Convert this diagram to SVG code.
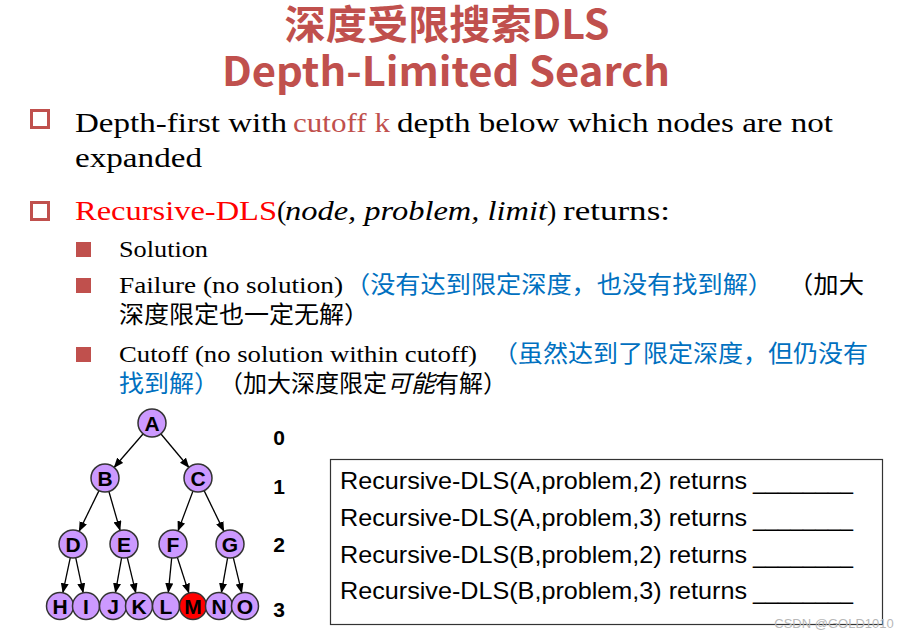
<svg xmlns="http://www.w3.org/2000/svg" width="908" height="639" viewBox="0 0 908 639">
<style>
.title{font-family:"Noto Sans CJK SC","Noto Sans",sans-serif;font-weight:bold;fill:#C0504D;font-size:40px}
.main{font-family:"Liberation Serif","Noto Sans CJK SC",serif;font-size:28px;fill:#000}
.sub{font-family:"Liberation Serif","Noto Sans CJK SC",serif;font-size:23px;fill:#000}
.cjk{font-family:"Noto Sans CJK SC",sans-serif;font-size:24px;fill:#000}
.blue{fill:#0070C0}
.node circle{fill:#CC99FF;stroke:#333;stroke-width:1.5}
.node text{font-family:"Liberation Sans",Arial,sans-serif;font-weight:bold;font-size:21px;text-anchor:middle;fill:#000}
.lvl{font-family:"Liberation Sans",Arial,sans-serif;font-weight:bold;font-size:21px;text-anchor:middle;fill:#000}
.box{font-family:"Liberation Sans",Arial,sans-serif;font-size:24px;fill:#000}
.edges line{stroke:#000;stroke-width:1.3;marker-end:url(#ah)}
</style>
<defs>
<marker id="ah" markerWidth="10" markerHeight="8" refX="9.5" refY="4" orient="auto" markerUnits="userSpaceOnUse"><path d="M0,0 L10,4 L0,8 z" fill="#000"/></marker>
</defs>
<rect width="908" height="639" fill="#fff"/>

<g id="title">
<text class="title" x="447" y="39" text-anchor="middle" textLength="325" lengthAdjust="spacingAndGlyphs">深度受限搜索DLS</text>
<text class="title" x="446" y="86" text-anchor="middle" font-size="42" textLength="448" lengthAdjust="spacingAndGlyphs">Depth-Limited Search</text>
</g>

<g id="bullets">
<rect x="31.5" y="110.5" width="17" height="17" fill="#fff" stroke="#C0504D" stroke-width="3"/>
<text class="main" y="132"><tspan x="75" textLength="212" lengthAdjust="spacingAndGlyphs">Depth-first with</tspan><tspan x="293" fill="#C0504D" textLength="97" lengthAdjust="spacingAndGlyphs">cutoff k</tspan><tspan x="397" textLength="436" lengthAdjust="spacingAndGlyphs">depth below which nodes are not</tspan></text>
<text class="main" x="75" y="167" textLength="127" lengthAdjust="spacingAndGlyphs">expanded</text>

<rect x="31.5" y="202.5" width="17" height="17" fill="#fff" stroke="#C0504D" stroke-width="3"/>
<text class="main" y="220"><tspan x="75" fill="#FF0000" textLength="202" lengthAdjust="spacingAndGlyphs">Recursive-DLS</tspan><tspan x="277">(</tspan><tspan x="285" font-style="italic" textLength="262" lengthAdjust="spacingAndGlyphs">node, problem, limit</tspan><tspan x="547">)</tspan><tspan x="563" textLength="107" lengthAdjust="spacingAndGlyphs">returns:</tspan></text>

<rect x="76" y="242" width="15" height="15" fill="#C0504D"/>
<text class="sub" x="119" y="257" textLength="89" lengthAdjust="spacingAndGlyphs">Solution</text>

<rect x="76" y="278" width="15" height="15" fill="#C0504D"/>
<text class="sub" x="119" y="293" textLength="224" lengthAdjust="spacingAndGlyphs">Failure (no solution)</text>
<text class="cjk blue" x="345" y="293" textLength="428" lengthAdjust="spacingAndGlyphs">（没有达到限定深度，也没有找到解）</text>
<text class="cjk" x="788" y="293" textLength="76" lengthAdjust="spacingAndGlyphs">（加大</text>
<text class="cjk" x="119" y="323" textLength="250" lengthAdjust="spacingAndGlyphs">深度限定也一定无解）</text>

<rect x="76" y="347" width="15" height="15" fill="#C0504D"/>
<text class="sub" x="119" y="362" textLength="358" lengthAdjust="spacingAndGlyphs">Cutoff (no solution within cutoff)</text>
<text class="cjk blue" x="493" y="362" textLength="375" lengthAdjust="spacingAndGlyphs">（虽然达到了限定深度，但仍没有</text>
<text class="cjk blue" x="119" y="392" textLength="100" lengthAdjust="spacingAndGlyphs">找到解）</text>
<text class="cjk" x="219" y="392">（加大深度限定<tspan font-style="italic">可能</tspan>有解）</text>
</g>

<g id="connectors" class="edges">
<line x1="143" y1="434" x2="114" y2="467.5"/>
<line x1="161" y1="434" x2="189" y2="467.5"/>
<line x1="99" y1="490.6" x2="79.1" y2="531.4"/>
<line x1="108.9" y1="491.5" x2="120.1" y2="530.5"/>
<line x1="193" y1="491.1" x2="178" y2="530.9"/>
<line x1="204.1" y1="490.6" x2="223.9" y2="531.4"/>
<line x1="70.3" y1="557.7" x2="62.8" y2="592.8"/>
<line x1="75.7" y1="557.7" x2="83.2" y2="592.8"/>
<line x1="121.6" y1="557.8" x2="115.4" y2="592.7"/>
<line x1="127.3" y1="557.6" x2="135.8" y2="592.9"/>
<line x1="171.7" y1="557.9" x2="168.3" y2="592.6"/>
<line x1="177.3" y1="557.3" x2="188.9" y2="593.1"/>
<line x1="227.6" y1="557.8" x2="221.4" y2="592.7"/>
<line x1="233.3" y1="557.6" x2="241.8" y2="592.9"/>
</g>

<g id="node-A" class="node"><circle cx="152" cy="423" r="14"/><text x="152" y="430.5">A</text></g>
<g id="node-B" class="node"><circle cx="105" cy="478" r="14"/><text x="105" y="485.5">B</text></g>
<g id="node-C" class="node"><circle cx="198" cy="478" r="14"/><text x="198" y="485.5">C</text></g>
<g id="node-D" class="node"><circle cx="73" cy="544" r="14"/><text x="73" y="551.5">D</text></g>
<g id="node-E" class="node"><circle cx="124" cy="544" r="14"/><text x="124" y="551.5">E</text></g>
<g id="node-F" class="node"><circle cx="173" cy="544" r="14"/><text x="173" y="551.5">F</text></g>
<g id="node-G" class="node"><circle cx="230" cy="544" r="14"/><text x="230" y="551.5">G</text></g>
<g id="node-H" class="node"><circle cx="60" cy="606" r="13.5"/><text x="60" y="613.5">H</text></g>
<g id="node-I" class="node"><circle cx="86" cy="606" r="13.5"/><text x="86" y="613.5">I</text></g>
<g id="node-J" class="node"><circle cx="113" cy="606" r="13.5"/><text x="113" y="613.5">J</text></g>
<g id="node-K" class="node"><circle cx="139" cy="606" r="13.5"/><text x="139" y="613.5">K</text></g>
<g id="node-L" class="node"><circle cx="166" cy="606" r="13.5"/><text x="166" y="613.5">L</text></g>
<g id="node-M" class="node"><circle cx="193" cy="606" r="13.5" style="fill:#FF0000"/><text x="193" y="613.5">M</text></g>
<g id="node-N" class="node"><circle cx="219" cy="606" r="13.5"/><text x="219" y="613.5">N</text></g>
<g id="node-O" class="node"><circle cx="245" cy="606" r="13.5"/><text x="245" y="613.5">O</text></g>

<g id="levels">
<text class="lvl" x="279" y="445">0</text>
<text class="lvl" x="279" y="494">1</text>
<text class="lvl" x="279" y="552">2</text>
<text class="lvl" x="279" y="617">3</text>
</g>

<g id="questions">
<rect x="330.5" y="459.5" width="552" height="165" fill="#fff" stroke="#333" stroke-width="1.2"/>
<text class="box" y="489"><tspan x="340" textLength="407" lengthAdjust="spacingAndGlyphs">Recursive-DLS(A,problem,2) returns</tspan><tspan x="753" textLength="100" lengthAdjust="spacingAndGlyphs">________</tspan></text>
<text class="box" y="526"><tspan x="340" textLength="407" lengthAdjust="spacingAndGlyphs">Recursive-DLS(A,problem,3) returns</tspan><tspan x="753" textLength="100" lengthAdjust="spacingAndGlyphs">________</tspan></text>
<text class="box" y="563"><tspan x="340" textLength="407" lengthAdjust="spacingAndGlyphs">Recursive-DLS(B,problem,2) returns</tspan><tspan x="753" textLength="100" lengthAdjust="spacingAndGlyphs">________</tspan></text>
<text class="box" y="599"><tspan x="340" textLength="407" lengthAdjust="spacingAndGlyphs">Recursive-DLS(B,problem,3) returns</tspan><tspan x="753" textLength="100" lengthAdjust="spacingAndGlyphs">________</tspan></text>
</g>

<text x="834" y="628" text-anchor="middle" font-family="Liberation Sans,Arial,sans-serif" font-size="13" fill="#b8b8b8">CSDN @GOLD1010</text>
</svg>
